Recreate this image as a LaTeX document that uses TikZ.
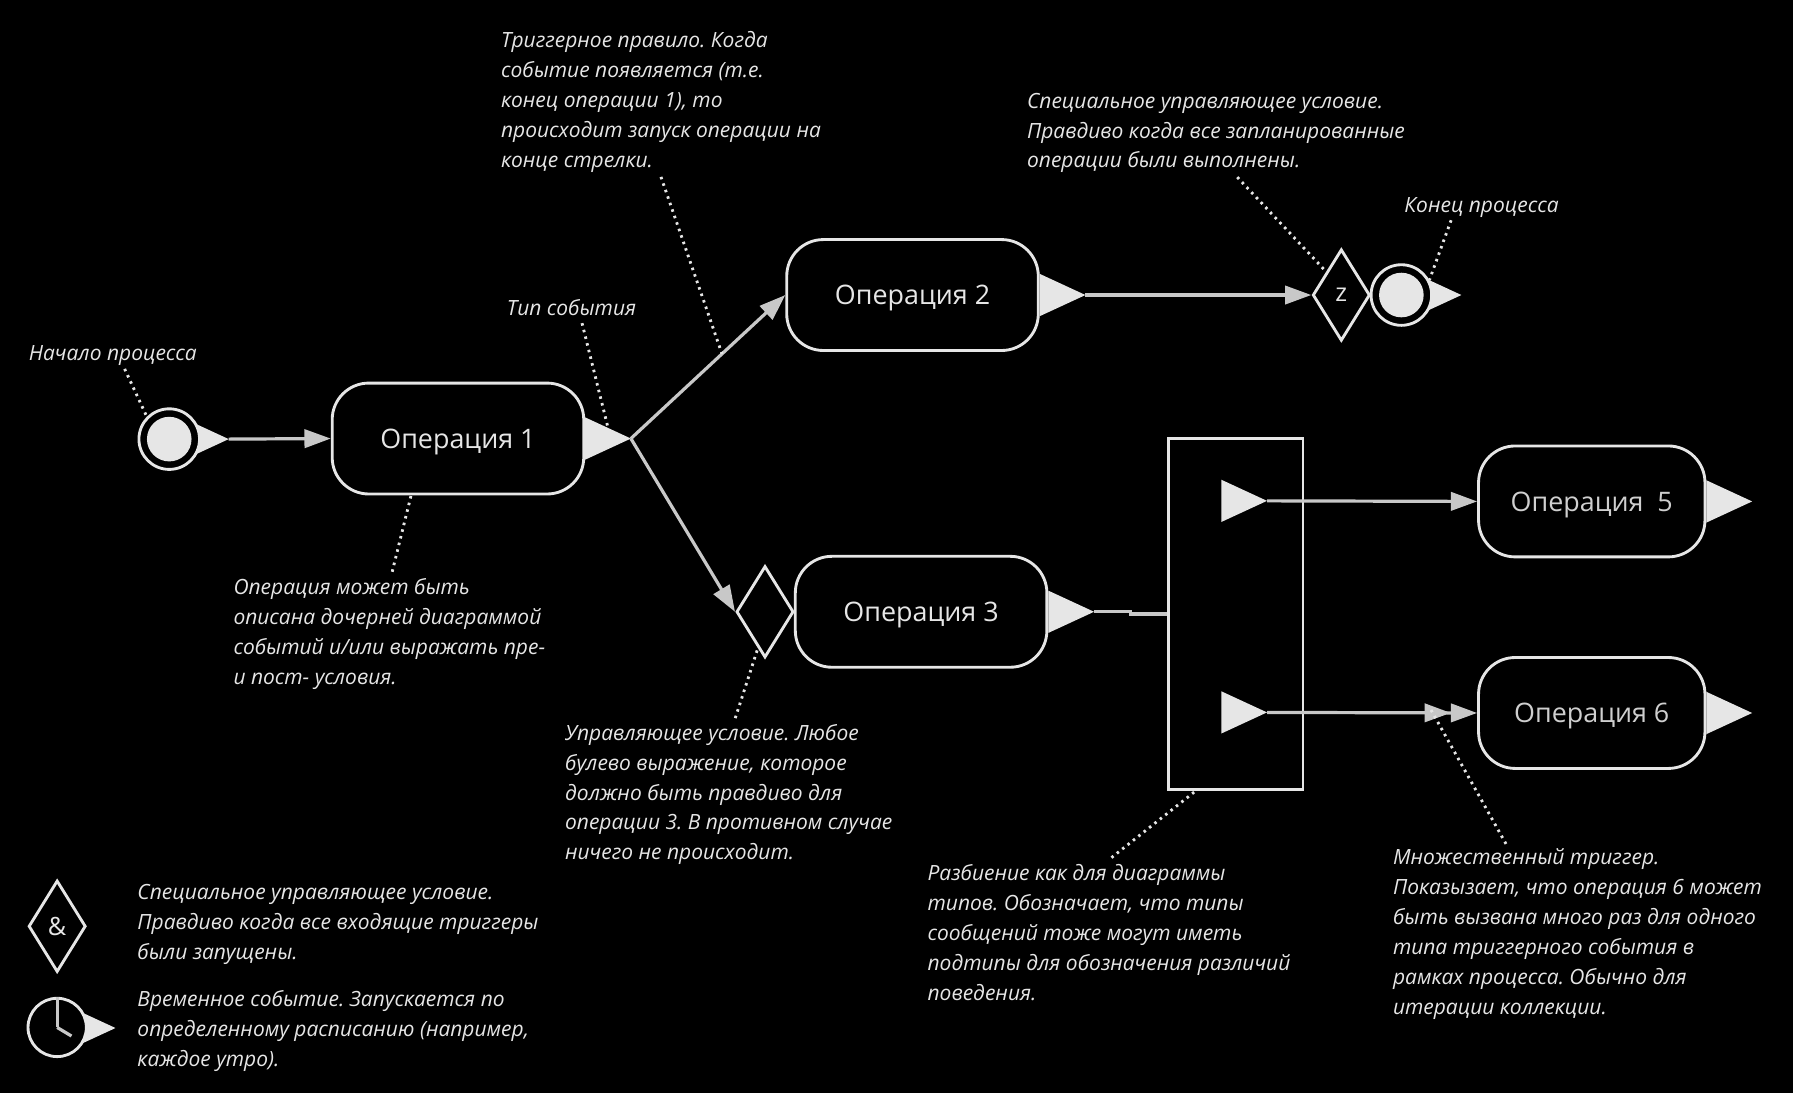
\documentclass[tikz,border=0pt]{standalone}
\usepackage{fontspec}
\setmainfont{Open Sans}
\usetikzlibrary{positioning,shapes.geometric,arrows.meta}
\definecolor{ink}{HTML}{E6E6E6}
\definecolor{wire}{HTML}{C8C8C8}
\frenchspacing
\tikzset{
  opbox/.style={draw=ink, fill=black, text=ink, line width=2.5pt, rectangle, rounded corners=32pt, minimum width=220pt, minimum height=97pt, text height=17pt, text depth=0pt, font=\fontsize{23.5}{28}\selectfont},
  opboxdim/.style={opbox, minimum width=198pt, text=ink!90!black},
  trigger/.style={isosceles triangle, isosceles triangle apex angle=50, isosceles triangle stretches, fill=ink, inner sep=0pt, outer sep=0pt, minimum width=37pt, minimum height=40pt, anchor=lower side},
  evring/.style={circle, draw=ink, fill=black, line width=2.5pt, inner sep=0pt, minimum size=53pt},
  evdisc/.style={circle, fill=ink, inner sep=0pt, minimum size=39pt},
  guard/.style={diamond, draw=ink, fill=black, text=ink, line width=2.5pt, inner sep=0pt, aspect=0.625, minimum width=50pt, minimum height=80pt, font=\fontsize{22}{24}\selectfont},
  flow/.style={draw=wire, line width=2.8pt, -{Triangle[length=23pt,width=16pt,fill=wire]}},
  flowtwice/.style={draw=wire, line width=2.8pt, -{Triangle[length=23pt,width=16pt,fill=wire] Triangle[length=23pt,width=16pt,fill=wire]}},
  plainwire/.style={draw=wire, line width=2.8pt},
  leader/.style={draw=ink, line width=2.5pt, dash pattern=on 2.2pt off 3.8pt},
  note/.style={text=ink, align=left, anchor=north west, inner sep=0pt, execute at begin node=\strut, font=\fontsize{18.35}{26.2}\itshape}
}
\begin{document}
\begin{tikzpicture}[x=1pt,y=-1pt]
\path[fill=black,use as bounding box] (0,0) rectangle (1568,956);

\node[opbox] (op1) at (400.5,383.5) {Операция 1};
\node[opbox] (op2) at (798,258) {Операция 2};
\node[opbox] (op3) at (805.5,535) {Операция 3};
\node[opboxdim] (op5) at (1392,438.5) {Операция~~5};
\node[opboxdim] (op6) at (1392,623.5) {Операция 6};
\node[draw=ink, line width=2.5pt, minimum width=118pt, minimum height=307pt] (part) at (1080.5,537) {};

\node[trigger] (t0) at (160,384) {};
\node[evring] (evstart) at (148,384) {};
\node[evdisc] (evstartin) at (evstart) {};
\node[trigger] (t1) at (op1.east) {};
\node[trigger] (t2) at (op2.east) {};
\node[trigger] (t3) at (op3.east) {};
\node[trigger] (t5) at (op5.east) {};
\node[trigger] (t6) at (op6.east) {};
\node[trigger] (t7) at (1068,438) {};
\node[trigger] (t8) at (1068,623) {};
\node[guard] (d3) at (669,535) {};
\node[guard] (dz) at (1173,258) {z};
\node[trigger] (t9) at (1238,258) {};
\node[evring] (evend) at (1225.5,258) {};
\node[evdisc] (evendin) at (evend) {};

\draw[flow] (t0.apex) -- (op1.west);
\draw[flow] (t1.apex) -- coordinate[pos=.59] (ontrig) (op2.west);
\draw[flow] (t1.apex) -- (d3.west);
\draw[flow] (t2.apex) -- (dz.west);
\draw[plainwire] (t3.apex) -- ++(32,0) |- (part.west);
\draw[flow] (t7.apex) -- (op5.west);
\draw[flowtwice] (t8.apex) -- coordinate[pos=.773] (onmulti) (op6.west);

\node[note] (nstart) at (25,297) {Начало процесса};
\node[note] (ntype) at (443,257) {Тип события};
\node[note] (ntrig) at (438,27.5) {Триггерное правило. Когда\\событие появляется (т.е.\\конец операции 1), то\\происходит запуск операции на\\конце стрелки.};
\node[note] (nspecial) at (898,81) {Специальное управляющее условие.\\Правдиво когда все запланированные\\операции были выполнены.};
\node[note] (nend) at (1228,167) {Конец процесса};
\node[note] (nop) at (204,506) {Операция может быть\\описана дочерней диаграммой\\событий и/или выражать пре-\\и пост- условия.};
\node[note] (ncond) at (494,633) {Управляющее условие. Любое\\булево выражение, которое\\должно быть правдиво для\\операции 3. В противном случае\\ничего не происходит.};
\node[note] (nsplit) at (811,756) {Разбиение как для диаграммы\\типов. Обозначает, что типы\\сообщений тоже могут иметь\\подтипы для обозначения различий\\поведения.};
\node[note] (nmulti) at (1218,742) {Множественный триггер.\\Показызает, что операция 6 может\\быть вызвана много раз для одного\\типа триггерного события в\\рамках процесса. Обычно для\\итерации коллекции.};

\draw[leader] ([shift={(84,-1)}]nstart.south west) -- (evstart.135);
\draw[leader] ([shift={(66,-1)}]ntype.south west) -- (t1.left side);
\draw[leader] ([shift={(140,0)}]ntrig.south west) -- (ontrig);
\draw[leader] ([shift={(184,0)}]nspecial.south west) -- (dz.123);
\draw[leader] ([shift={(41,-1)}]nend.south west) -- (evend.28);
\draw[leader] ([shift={(139,-6)}]nop.north west) -- ([xshift=-41]op1.south);
\draw[leader] ([shift={(149,-5)}]ncond.north west) -- (d3.-101);
\draw[leader] ([shift={(161,-6)}]nsplit.north west) -- ([xshift=-35]part.south);
\draw[leader] ([shift={(99,-4)}]nmulti.north west) -- ([yshift=5]onmulti);

\node[guard] (damp) at (50,810) {\&};
\node[note] (namp) at (120,773) {Специальное управляющее условие.\\Правдиво когда все входящие триггеры\\были запущены.};
\node[trigger] (tclock) at (61,899) {};
\node[evring, minimum size=51pt] (clock) at (50,898.5) {};
\coordinate (hand) at (62.5,906);
\draw[plainwire] (clock.center) -- (clock.north);
\draw[plainwire] (clock.center) -- (hand);
\node[note] (nclock) at (120,866) {Временное событие. Запускается по\\определенному расписанию (например,\\каждое утро).};
\end{tikzpicture}
\end{document}
